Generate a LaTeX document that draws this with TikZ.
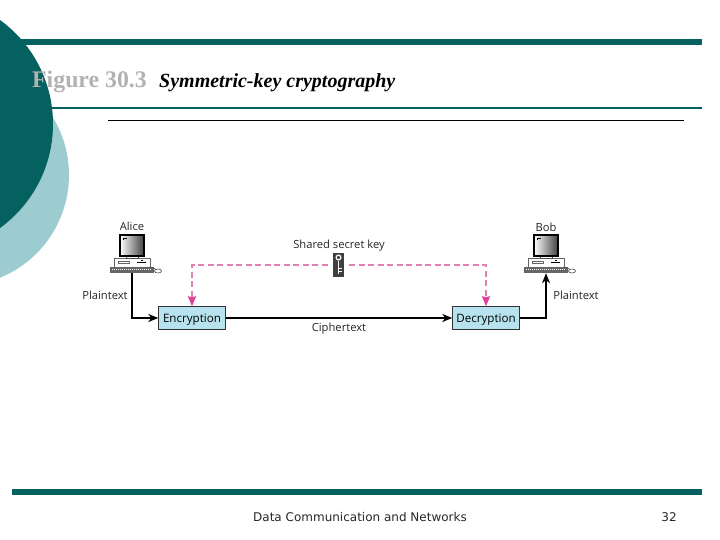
\documentclass[tikz,border=0pt]{standalone}
\usepackage{fontspec}
\setmainfont{Liberation Serif}
\newfontfamily\labelfont{Open Sans}
\newfontfamily\footfont{DejaVu Sans}
\usetikzlibrary{positioning,arrows.meta}
\definecolor{darkteal}{HTML}{04615F}
\definecolor{lightteal}{HTML}{9CCCCF}
\definecolor{boxblue}{HTML}{B7E3EE}
\definecolor{keypink}{HTML}{DE82B4}
\definecolor{tipmagenta}{HTML}{E0409A}
\definecolor{figgray}{HTML}{B2B2B2}
\tikzset{
  cipherbox/.style={draw=black!80, fill=boxblue, minimum width=67pt, minimum height=23pt, inner sep=0pt, text height=8pt, text depth=0pt, font=\labelfont\fontsize{11.6}{12}\selectfont},
  lbl/.style={inner sep=0pt, font=\labelfont\fontsize{11.2}{12}\selectfont, text=black!85},
  foot/.style={inner sep=0pt, font=\footfont\fontsize{12}{12}\selectfont, text=black!85},
  flow/.style={draw=black, line width=1.4pt, -{Stealth[length=10pt,width=8pt,inset=3pt]}},
  keyflow/.style={draw=keypink, line width=1.5pt, dash pattern=on 6pt off 3.5pt, -{Stealth[length=10pt,width=8pt,inset=1pt,color=tipmagenta]}},
  pics/computer/.style={code={
    \filldraw[fill=white, draw=black!60, line width=.6pt] (-18,22) rectangle (18,31);
    \draw[black!60, line width=.6pt] (-14,25) rectangle (-3,27.5);
    \draw[black, line width=.7pt] (5,26) -- (14,26) (9,24.5) -- (11,24.5);
    \filldraw[fill=white, draw=black!70, line width=.4pt] (-6,20) rectangle (6,22);
    \filldraw[draw=black, line width=1.2pt, left color=white, right color=black!75] (-12,-1) rectangle (12,20);
    \draw[black, line width=.8pt] (-9,4) -- (-9,2) -- (-5,2);
    \node[fill=black!60, minimum width=44pt, minimum height=6pt, inner sep=0pt] (-kb) at (0,34) {};
    \draw[white, line width=1pt, dash pattern=on 1pt off 1pt] (-20,33) -- (20,33);
    \draw[black!70, line width=.6pt] (17,31) .. controls (21,31) and (23,33) .. (25,34);
    \filldraw[fill=white, draw=black!70, line width=.6pt] (26,35) ellipse (3.5pt and 2pt);
  }}
}
\begin{document}
\begin{tikzpicture}[x=1pt,y=-1pt]
\useasboundingbox (0,0) rectangle (720,540);
% background discs
\begin{scope}
\clip (0,0) rectangle (720,540);
\fill[lightteal] (-42,175) circle (111pt);
\end{scope}
% rules
\fill[darkteal] (20,39) rectangle (702,45);
\fill[darkteal] (50,107) rectangle (702,109);
\fill[black] (108,120) rectangle (684,121);
\fill[darkteal] (12,489) rectangle (702,495);
\begin{scope}
\clip (0,0) rectangle (720,540);
\fill[darkteal] (-75.5,124) circle (128.5pt);
\end{scope}
% title
\node[anchor=base west, inner sep=0pt, text=figgray, font=\bfseries\fontsize{23.8}{24}\selectfont] (figno) at (32,88) {Figure 30.3};
\node[anchor=base west, inner sep=0pt, font=\bfseries\itshape\fontsize{20}{24}\selectfont] (figtitle) at (159,88) {Symmetric-key cryptography};
% boxes
\node[cipherbox] (encryption) at (192,318) {Encryption};
\node[cipherbox] (decryption) at (486,318) {Decryption};
% computers
\pic (alice) at (132,236) {computer};
\pic (bob) at (546,236) {computer};
% key
\node[fill=black!75, minimum width=11pt, minimum height=24pt, inner sep=0pt] (key) at (338.5,265) {};
\draw[white, line width=1.2pt] (338.5,257.5) circle (2.4pt);
\draw[white, line width=1.4pt] (338.5,260.5) -- (338.5,273.5) (338.5,268.5) -- (341.5,268.5) (338.5,271.5) -- (341.5,271.5);
% connectors
\draw[flow] (alice-kb.south) |- (encryption.west);
\draw[flow] (encryption.east) -- (decryption.west);
\draw[flow] (decryption.east) -| (bob-kb.south);
\draw[keyflow, shorten <=5pt] (key.west) -| (encryption.north);
\draw[keyflow, shorten <=5pt] (key.east) -| (decryption.north);
% labels
\node[lbl] (alicelbl) at (132,226.5) {Alice};
\node[lbl] (boblbl) at (546,227) {Bob};
\node[lbl] (keylbl) at (339,246) {Shared secret key};
\node[lbl] (cipherlbl) at (339,328.5) {Ciphertext};
\node[lbl] (plainleft) at (105,295.5) {Plaintext};
\node[lbl] (plainright) at (576,295.5) {Plaintext};
% footer
\node[foot] (footer) at (360,517.5) {Data Communication and Networks};
\node[foot] (pageno) at (669,517.5) {32};
\end{tikzpicture}
\end{document}
